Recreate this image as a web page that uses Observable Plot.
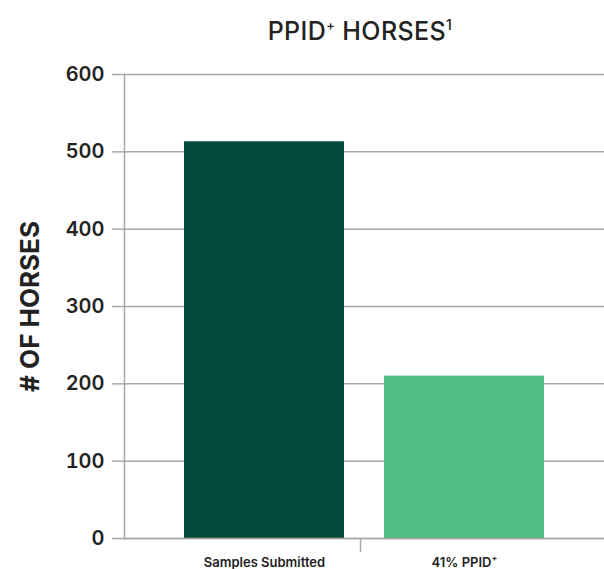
<!DOCTYPE html>
<html>
<head>
<meta charset="utf-8">
<script src="https://cdn.jsdelivr.net/npm/d3@7"></script>
<script src="https://cdn.jsdelivr.net/npm/@observablehq/plot@0.6"></script>
<style>
  body { margin: 0; background: #fff; font-family: Inter, "Noto Sans", sans-serif; }
  #title { height: 60px; box-sizing: border-box; padding-top: 17px; padding-left: 116px; width: 604px;
           text-align: center; font-size: 25px; font-weight: 500; color: #222; line-height: 28px; letter-spacing: 0.4px; }
  #title sup { font-size: 14px; vertical-align: 10px; line-height: 0; }
  #title sup.plus { font-size: 13px; }
</style>
</head>
<body>
<div id="title">PPID<sup class="plus">+</sup> HORSES<sup>1</sup></div>
<div id="chart"></div>
<script>
const categories = ["Samples Submitted", "41% PPID\u207A"];
const values = [513, 210];
const colors = ["#024B3B", "#52BE86"];
const yTicks = [0, 100, 200, 300, 400, 500, 600];
const yLabel = "# OF HORSES";

const data = categories.map((c, i) => ({category: c, value: values[i], color: colors[i]}));
const gridColor = "#a8a8a8";

const chart = Plot.plot({
  width: 604,
  height: 509,
  marginTop: 14,
  marginBottom: 31,
  marginLeft: 124,
  marginRight: 0,
  style: {fontFamily: "Inter, 'Noto Sans', sans-serif", color: "#222"},
  x: {domain: categories, paddingInner: 0.2, paddingOuter: 0.3, label: null},
  y: {domain: [0, 600], ticks: yTicks, label: null},
  marks: [
    Plot.gridY(yTicks, {stroke: gridColor, strokeOpacity: 1, strokeWidth: 1.5}),
    Plot.axisY(yTicks, {tickSize: 12, tickPadding: 8, stroke: gridColor, strokeWidth: 1.5, fontSize: 20, fontWeight: 600, label: null}),
    Plot.frame({anchor: "left", stroke: gridColor, strokeWidth: 1.5}),
    Plot.barY(data, {x: "category", y: "value", fill: "color"}),
    Plot.ruleY([0], {stroke: gridColor, strokeWidth: 1.5}),
    Plot.ruleX([categories[1]], {x: d => d, y1: 0, y2: -18, dx: -104, stroke: gridColor, strokeWidth: 1.5}),
    Plot.axisX({tickSize: 0, tickPadding: 19, fontSize: 13, fontWeight: 600, label: null}),
    Plot.text([yLabel], {text: d => d, frameAnchor: "left", textAnchor: "middle", rotate: -90, dx: -94, fontSize: 26, fontWeight: 700, fill: "#222"})
  ]
});
document.getElementById("chart").appendChild(chart);
</script>
</body>
</html>
